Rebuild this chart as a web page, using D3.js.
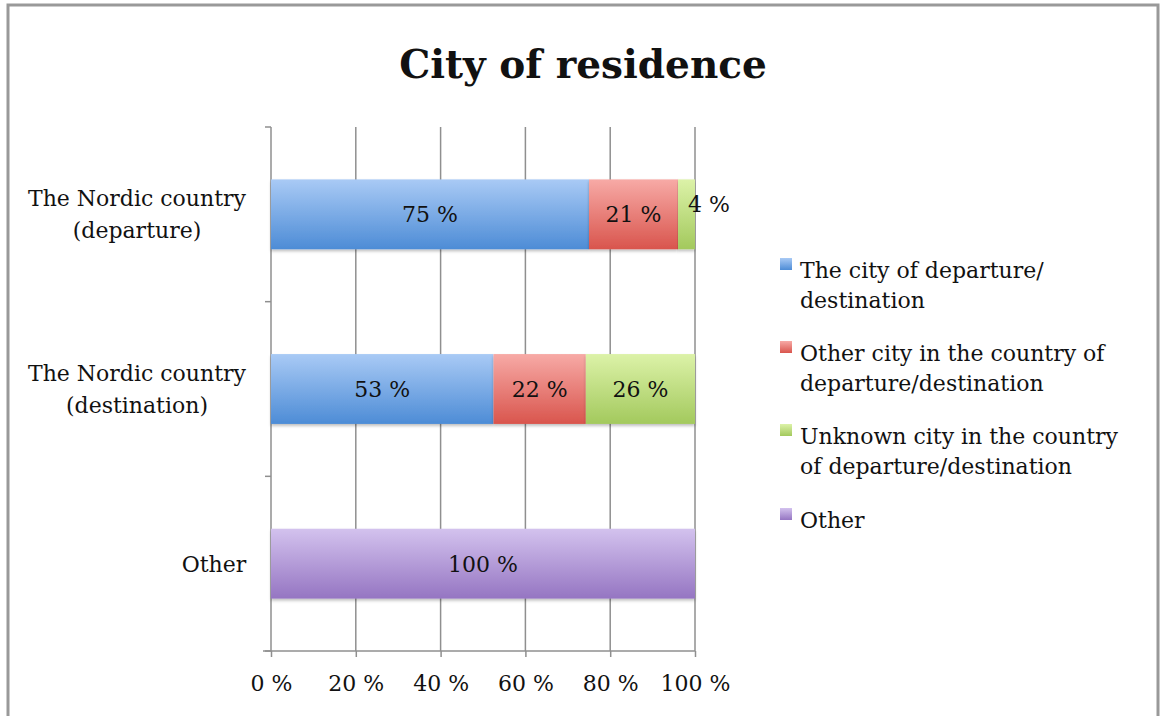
<!DOCTYPE html>
<html>
<head>
<meta charset="utf-8">
<script src="https://cdn.jsdelivr.net/npm/d3@7"></script>
<style>
  html, body { margin: 0; padding: 0; background: #fff; }
  svg { display: block; }
  text { font-family: "DejaVu Serif", "Liberation Serif", serif; fill: #111; }
</style>
</head>
<body>
<svg id="chart" width="1164" height="716"></svg>
<script>
// categories, top to bottom
var categories = ["The Nordic country (departure)", "The Nordic country (destination)", "Other"];
var categoryLines = [["The Nordic country", "(departure)"], ["The Nordic country", "(destination)"], ["Other"]];
var seriesNames = ["The city of departure/ destination", "Other city in the country of departure/destination",
                   "Unknown city in the country of departure/destination", "Other"];
var legendLines = [["The city of departure/", "destination"], ["Other city in the country of", "departure/destination"],
                   ["Unknown city in the country", "of departure/destination"], ["Other"]];
// percentage shown per series, one value per category
var cityOfDeparture = [75, 53, 0];
var otherCity = [21, 22, 0];
var unknownCity = [4, 26, 0];
var otherSeries = [0, 0, 100];
var xTicks = [0, 20, 40, 60, 80, 100];

var svg = d3.select('#chart');
var W = 1164, H = 716;
var mLeft = 271, mRight = 695, mTop = 127, mBottom = 651;
var fs = '22px';

// gradients (top lighter, bottom darker)
var grads = [
  { top: '#a9caf5', bottom: '#4d8cd6' },
  { top: '#f7aaa6', bottom: '#d9554d' },
  { top: '#dcf2a8', bottom: '#a3c95d' },
  { top: '#d3c2ee', bottom: '#9575c2' }
];
var defs = svg.append('defs');
grads.forEach(function(g, i) {
  var lg = defs.append('linearGradient').attr('id', 'g' + i)
    .attr('x1', 0).attr('y1', 0).attr('x2', 0).attr('y2', 1);
  lg.append('stop').attr('offset', '0%').attr('stop-color', g.top);
  lg.append('stop').attr('offset', '100%').attr('stop-color', g.bottom);
});
var shadow = defs.append('filter').attr('id', 'sh').attr('x', '-5%').attr('y', '-10%').attr('width', '110%').attr('height', '130%');
shadow.append('feDropShadow').attr('dx', 0).attr('dy', 2).attr('stdDeviation', 1.5).attr('flood-color', '#000').attr('flood-opacity', 0.25);

// outer frame
svg.append('rect').attr('x', 8).attr('y', 5).attr('width', 1150).attr('height', 720)
  .attr('fill', 'none').attr('stroke', '#999').attr('stroke-width', 3);

// title
svg.append('text').attr('x', 583).attr('y', 78).attr('text-anchor', 'middle')
  .style('font-size', '39px').style('font-weight', 'bold').text('City of residence');

// build rows
var series = [cityOfDeparture, otherCity, unknownCity, otherSeries];
var rows = categories.map(function(c, i) {
  var row = { cat: c };
  var total = 0;
  series.forEach(function(s, k) { row['s' + k] = s[i]; total += s[i]; });
  row.total = total;
  return row;
});
var keys = ['s0', 's1', 's2', 's3'];
var stack = d3.stack().keys(keys).value(function(d, k) { return d[k] / d.total * 100; });
var stacked = stack(rows);

var x = d3.scaleLinear().domain([0, 100]).range([mLeft, mRight]);
var y = d3.scaleBand().domain(categories).range([mTop, mBottom]).paddingInner(0.6).paddingOuter(0.3);

// gridlines
svg.append('g').selectAll('line').data(xTicks.slice(1)).enter().append('line')
  .attr('x1', function(d) { return x(d); }).attr('x2', function(d) { return x(d); })
  .attr('y1', mTop).attr('y2', mBottom)
  .attr('stroke', '#8f8f8f').attr('stroke-width', 1.5);

// x axis
var xAxis = svg.append('g').attr('transform', 'translate(0,' + mBottom + ')')
  .call(d3.axisBottom(x).tickValues(xTicks).tickSize(6).tickPadding(18).tickFormat(function(d) { return d + ' %'; }));
xAxis.select('.domain').remove();
xAxis.append('line').attr('x1', mLeft - 8).attr('x2', mRight).attr('y1', 0).attr('y2', 0)
  .attr('stroke', '#8f8f8f').attr('stroke-width', 1.5);
xAxis.selectAll('.tick line').attr('stroke', '#8f8f8f').attr('stroke-width', 1.5);
xAxis.selectAll('.tick text').attr('fill', '#111').style('font-size', fs)
  .style('font-family', '"DejaVu Serif", serif');

// y axis
var yAxis = svg.append('g').attr('transform', 'translate(' + mLeft + ',0)');
yAxis.append('line').attr('x1', 0).attr('x2', 0).attr('y1', mTop).attr('y2', mBottom)
  .attr('stroke', '#8f8f8f').attr('stroke-width', 1.5);
var bounds = [mTop].concat(categories.map(function(c) { return y(c) - y.step() * y.paddingInner() / 2 + y.step(); }));
bounds[bounds.length - 1] = mBottom;
yAxis.selectAll('.yt').data(bounds).enter().append('line')
  .attr('x1', -6).attr('x2', 0).attr('y1', function(d) { return d; }).attr('y2', function(d) { return d; })
  .attr('stroke', '#8f8f8f').attr('stroke-width', 1.5);

// category labels
categories.forEach(function(c, i) {
  var lines = categoryLines[i];
  var cy = y(c) + y.bandwidth() / 2;
  var t = svg.append('text').attr('text-anchor', 'middle').style('font-size', fs);
  lines.forEach(function(l, j) {
    t.append('tspan').attr('x', lines.length > 1 ? 137 : 214)
      .attr('y', cy + 8 + (j - (lines.length - 1) / 2) * 32).text(l);
  });
});

// bars
var layer = svg.append('g').selectAll('g').data(stacked).enter().append('g')
  .attr('fill', function(d, i) { return 'url(#g' + i + ')'; });
layer.selectAll('rect').data(function(d) { return d.filter(function(p) { return p[1] - p[0] > 0; }); })
  .enter().append('rect')
  .attr('x', function(p) { return x(p[0]); })
  .attr('width', function(p) { return x(p[1]) - x(p[0]); })
  .attr('y', function(p) { return y(p.data.cat); })
  .attr('height', y.bandwidth())
  .attr('filter', 'url(#sh)');

// bar labels
stacked.forEach(function(s, k) {
  s.forEach(function(p) {
    var v = p.data[s.key];
    if (!v) return;
    var w = x(p[1]) - x(p[0]);
    var cx = (x(p[0]) + x(p[1])) / 2;
    var cy = y(p.data.cat) + y.bandwidth() / 2 + 8;
    if (w < 40) { cx = x(p[1]) + 14; cy -= 10; }
    svg.append('text').attr('x', cx).attr('y', cy).attr('text-anchor', 'middle')
      .style('font-size', fs).text(v + ' %');
  });
});

// legend
var ly = [270, 353, 436, 520];
legendLines.forEach(function(lines, i) {
  svg.append('rect').attr('x', 780).attr('y', ly[i] - 12).attr('width', 12).attr('height', 12)
    .attr('fill', 'url(#g' + i + ')');
  var t = svg.append('text').style('font-size', fs);
  lines.forEach(function(l, j) {
    t.append('tspan').attr('x', 800).attr('y', ly[i] + 8 + j * 30).text(l);
  });
});
</script>
</body>
</html>
